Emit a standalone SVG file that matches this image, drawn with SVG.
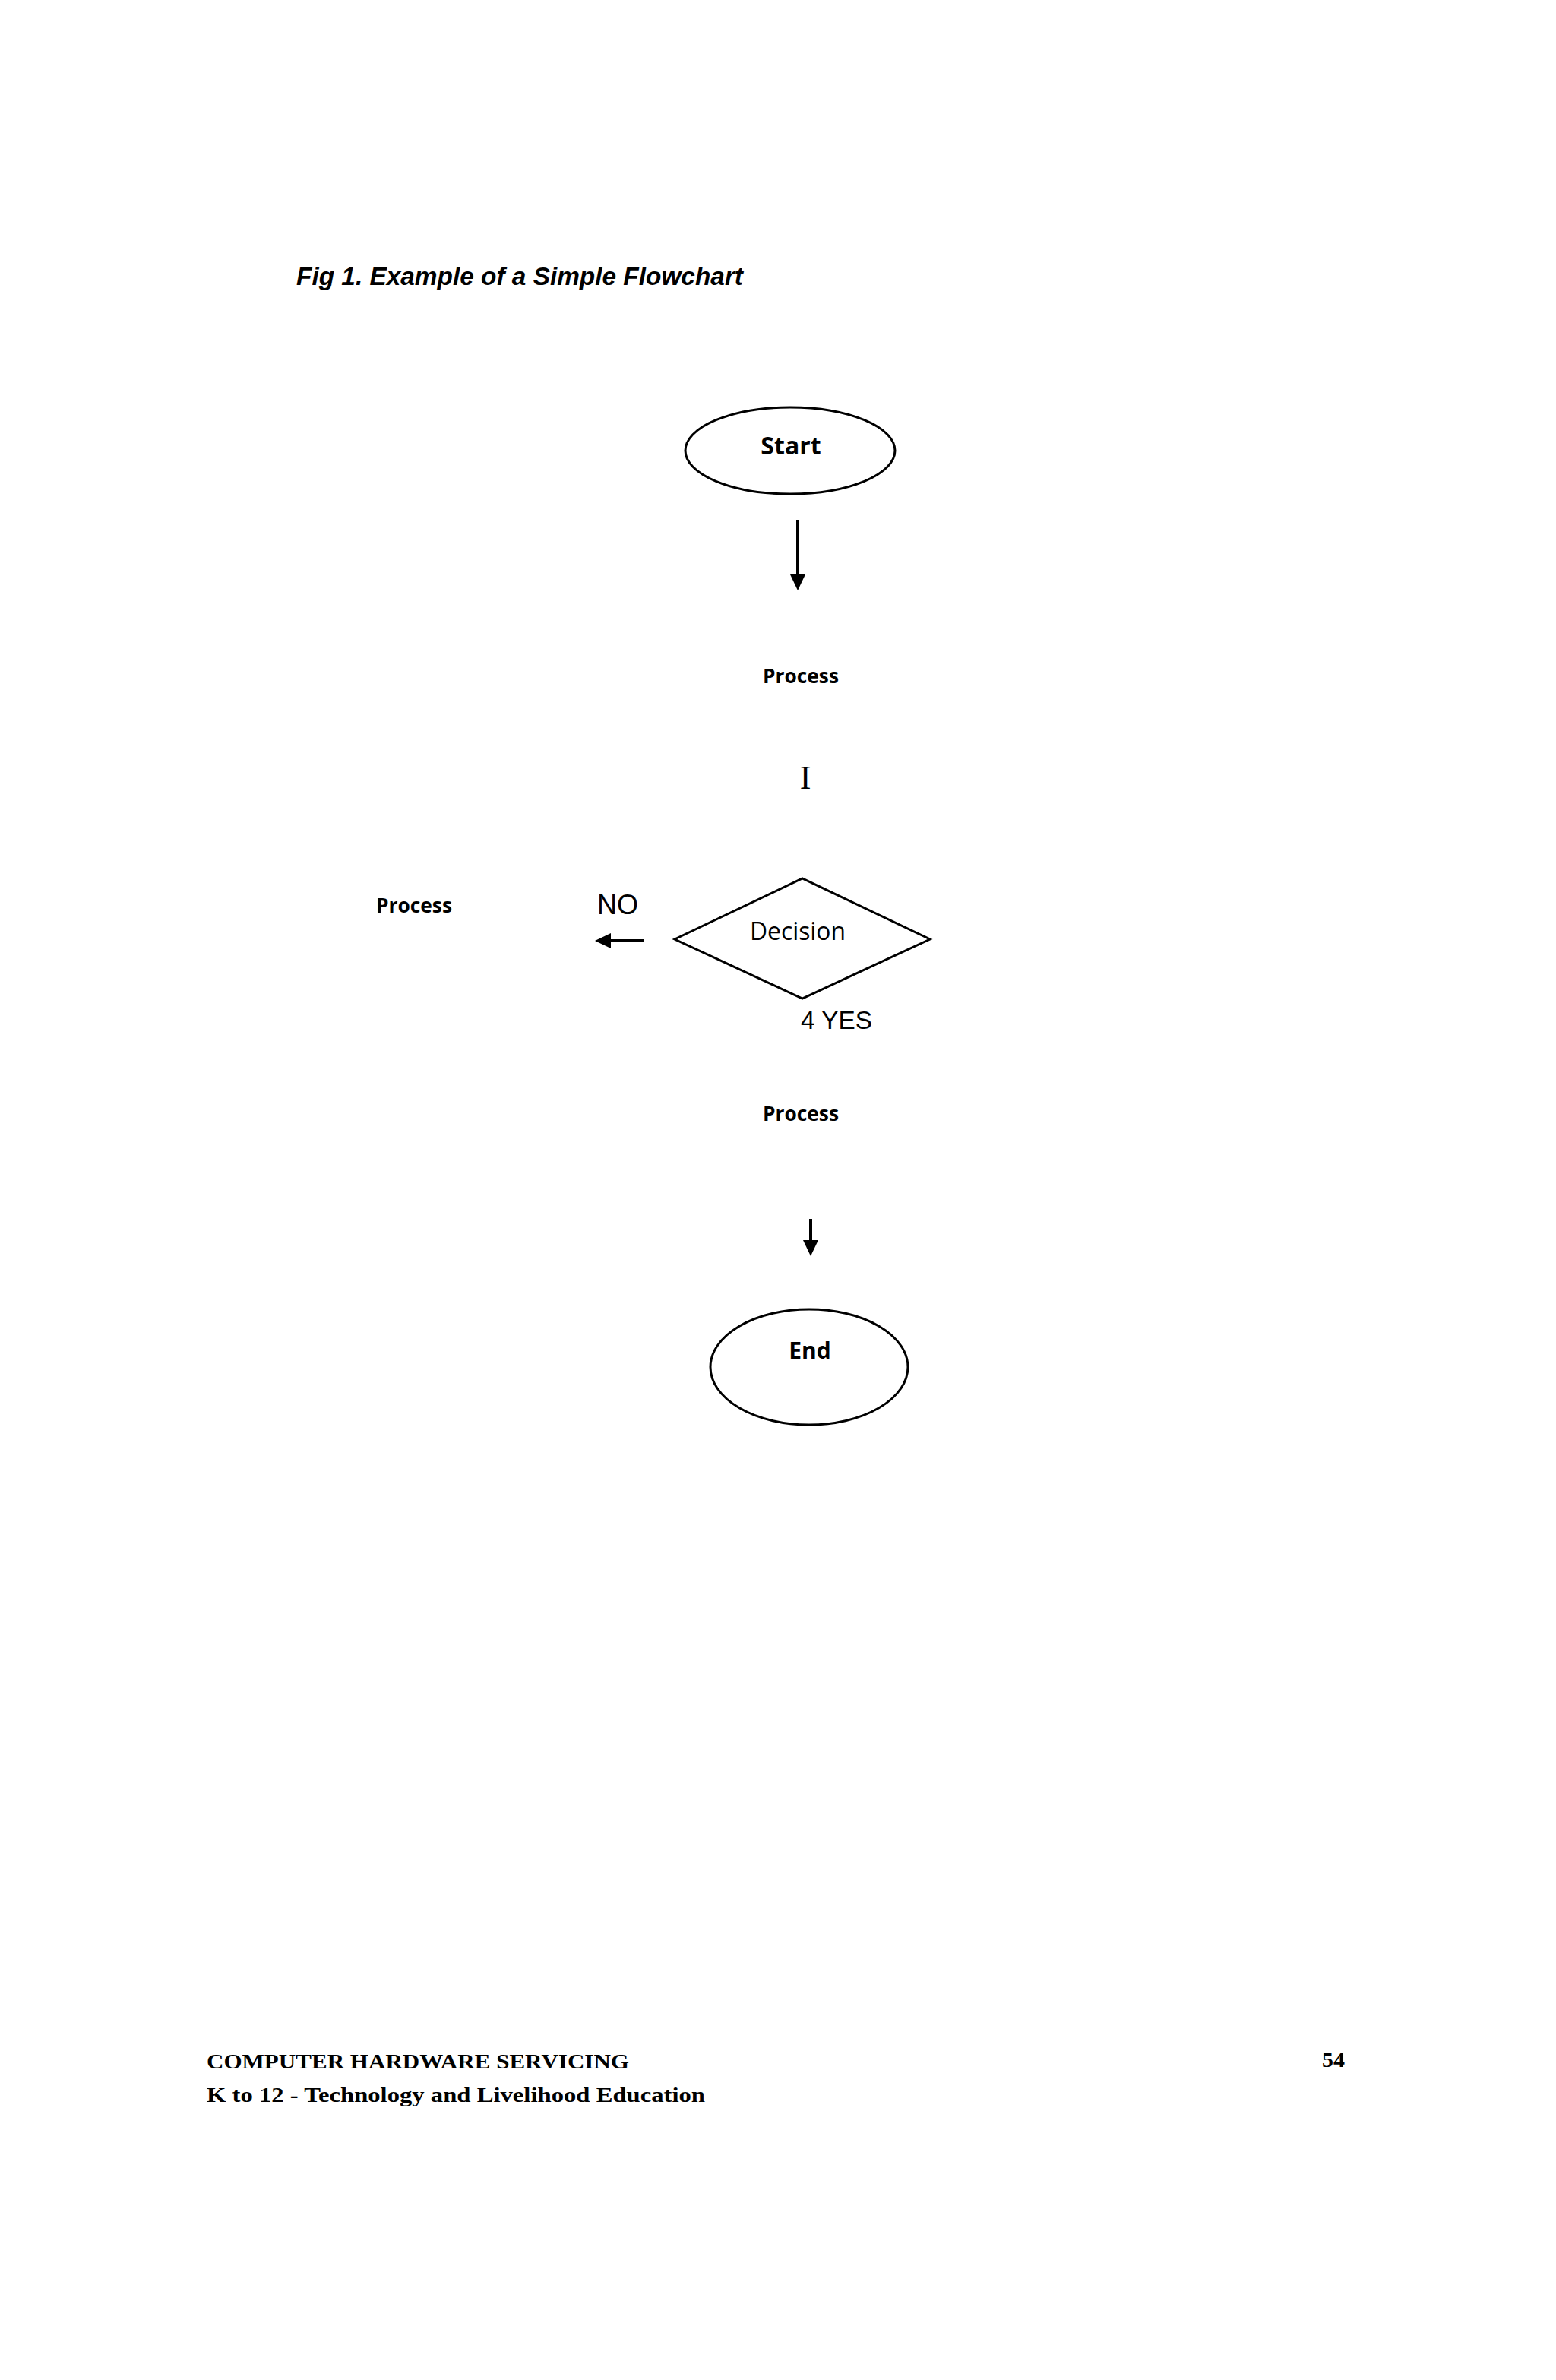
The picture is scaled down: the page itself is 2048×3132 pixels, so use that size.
<svg xmlns="http://www.w3.org/2000/svg" width="2048" height="3132" viewBox="0 0 2048 3132">
<style>
.shape{fill:none;stroke:#000;stroke-width:3}
.conn{stroke:#000;stroke-width:4;fill:none;marker-end:url(#ah)}
.lbl{font-family:"Open Sans","Noto Sans",sans-serif;font-weight:700;fill:#000}
.reg{font-family:"Open Sans","Noto Sans",sans-serif;font-weight:400;fill:#000}
.arial{font-family:"Liberation Sans",Arial,sans-serif;fill:#000}
.foot{font-family:"Liberation Serif","Times New Roman",serif;font-weight:700;fill:#000}
</style>
<defs>
<marker id="ah" markerWidth="21" markerHeight="20" refX="8" refY="10" orient="auto" markerUnits="userSpaceOnUse">
<path d="M0,0 L21,10 L0,20 z" fill="#000"/>
</marker>
</defs>
<rect x="0" y="0" width="2048" height="3132" fill="#fff"/>
<text id="title" class="arial" x="390" y="375" font-size="33" font-weight="700" font-style="italic" textLength="588" lengthAdjust="spacingAndGlyphs">Fig 1. Example of a Simple Flowchart</text>
<g id="start">
<ellipse class="shape" cx="1040" cy="593" rx="138" ry="57"/>
<text class="lbl" x="1041" y="598" font-size="32" text-anchor="middle">Start</text>
</g>
<g id="process1">
<text class="lbl" x="1054" y="899" font-size="27" text-anchor="middle" textLength="100" lengthAdjust="spacingAndGlyphs">Process</text>
</g>
<g id="marker-i">
<text x="1060" y="1038" font-family="Liberation Serif,Times New Roman,serif" font-size="44" text-anchor="middle" fill="#000">I</text>
</g>
<g id="decision">
<polygon class="shape" points="888,1236 1056,1156 1224,1236 1056,1314"/>
<text class="reg" x="1050" y="1237" font-size="32" text-anchor="middle" textLength="126" lengthAdjust="spacingAndGlyphs">Decision</text>
</g>
<g id="process-no">
<text class="lbl" x="545" y="1201" font-size="27" text-anchor="middle" textLength="100" lengthAdjust="spacingAndGlyphs">Process</text>
</g>
<g id="label-no">
<text class="arial" x="786" y="1203" font-size="36" textLength="54" lengthAdjust="spacingAndGlyphs">NO</text>
</g>
<g id="label-yes">
<text class="arial" x="1054" y="1354" font-size="33" textLength="94" lengthAdjust="spacingAndGlyphs">4 YES</text>
</g>
<g id="process-yes">
<text class="lbl" x="1054" y="1475" font-size="27" text-anchor="middle" textLength="100" lengthAdjust="spacingAndGlyphs">Process</text>
</g>
<g id="end">
<ellipse class="shape" cx="1065" cy="1799" rx="130" ry="76"/>
<text class="lbl" x="1066" y="1788" font-size="30" text-anchor="middle">End</text>
</g>
<g id="connectors">
<line class="conn" x1="1050" y1="684" x2="1050" y2="764"/>
<line class="conn" x1="848" y1="1238" x2="796" y2="1238"/>
<line class="conn" x1="1067" y1="1604" x2="1067" y2="1640"/>
</g>
<g id="footer">
<text class="foot" x="272" y="2722" font-size="28" textLength="556" lengthAdjust="spacingAndGlyphs">COMPUTER HARDWARE SERVICING</text>
<text class="foot" x="272" y="2766" font-size="28" textLength="656" lengthAdjust="spacingAndGlyphs">K to 12 - Technology and Livelihood Education</text>
<text class="foot" x="1740" y="2720" font-size="28" textLength="30" lengthAdjust="spacingAndGlyphs">54</text>
</g>
</svg>
